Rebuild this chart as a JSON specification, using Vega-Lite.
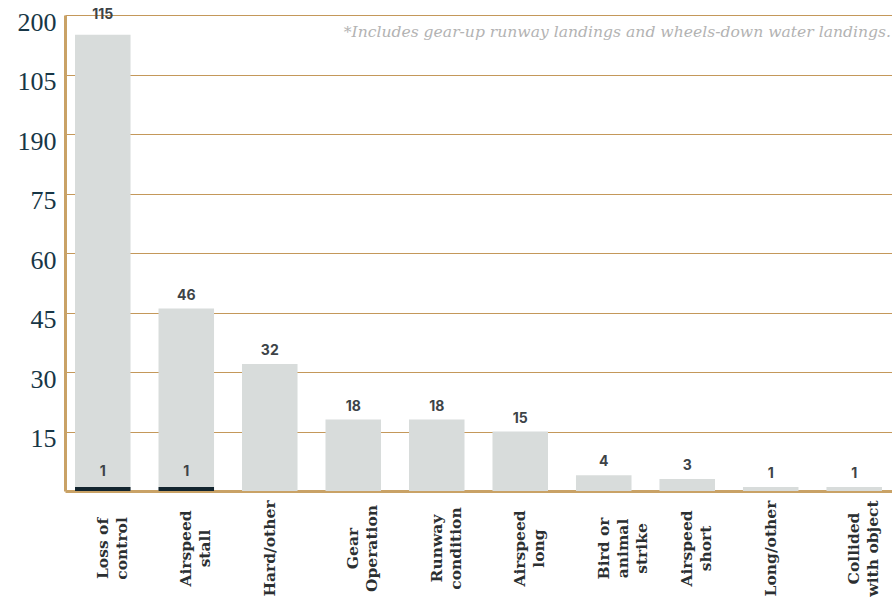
{
  "$schema": "https://vega.github.io/schema/vega-lite/v6.json",
  "width": 827,
  "height": 476,
  "autosize": {"type": "none"},
  "padding": {"left": 65, "top": 15, "right": 0, "bottom": 111},
  "background": "white",
  "title": {
    "text": "*Includes gear-up runway landings and wheels-down water landings.",
    "anchor": "end",
    "orient": "top",
    "offset": -33,
    "font": "DejaVu Serif",
    "fontStyle": "italic",
    "fontWeight": "normal",
    "fontSize": 15.6,
    "color": "#b3b3b3",
    "dx": -1
  },
  "config": {
    "view": {"stroke": null},
    "axis": {"grid": false}
  },
  "data": {
    "values": [
      {"cause": "Loss of|control", "total": 115, "sub": 1},
      {"cause": "Airspeed|stall", "total": 46, "sub": 1},
      {"cause": "Hard/other", "total": 32, "sub": null},
      {"cause": "Gear|Operation", "total": 18, "sub": null},
      {"cause": "Runway|condition", "total": 18, "sub": null},
      {"cause": "Airspeed|long", "total": 15, "sub": null},
      {"cause": "Bird or|animal|strike", "total": 4, "sub": null},
      {"cause": "Airspeed|short", "total": 3, "sub": null},
      {"cause": "Long/other", "total": 1, "sub": null},
      {"cause": "Collided|with object", "total": 1, "sub": null}
    ]
  },
  "encoding": {
    "x": {
      "field": "cause",
      "type": "nominal",
      "sort": null,
      "scale": {"paddingInner": 0.335, "paddingOuter": 0.12},
      "axis": {
        "title": null,
        "domain": true,
        "domainColor": "#c9a266",
        "domainWidth": 3,
        "ticks": false,
        "labelAngle": -90,
        "labelAlign": "center",
        "labelBaseline": "middle",
        "labelPadding": 57,
        "labelFont": "DejaVu Serif",
        "labelFontWeight": "bold",
        "labelFontSize": 15.5,
        "labelLineHeight": 19,
        "labelColor": "#2b2f31",
        "labelExpr": "split(datum.label, '|')"
      }
    }
  },
  "layer": [
    {
      "mark": {"type": "bar", "color": "#d8dcdb"},
      "encoding": {
        "y": {
          "field": "total",
          "type": "quantitative",
          "scale": {"domain": [0, 120], "nice": false},
          "axis": {
            "title": null,
            "values": [15, 30, 45, 60, 75, 90, 105, 120],
            "labelExpr": "datum.value == 90 ? '190' : datum.value == 120 ? '200' : datum.label",
            "grid": true,
            "gridColor": "#c4985a",
            "gridWidth": 1.2,
            "domain": true,
            "domainColor": "#c9a266",
            "domainWidth": 3,
            "ticks": false,
            "labelFont": "Liberation Serif",
            "labelFontSize": 26,
            "labelColor": "#173646",
            "labelPadding": 9,
            "labelOffset": 7,
            "labelBaseline": "middle"
          }
        }
      }
    },
    {
      "mark": {"type": "bar", "color": "#13252f"},
      "transform": [{"filter": "datum.sub != null"}],
      "encoding": {"y": {"field": "sub", "type": "quantitative"}}
    },
    {
      "mark": {"type": "text", "dy": -13, "font": "Inter", "fontWeight": "bold", "fontSize": 14, "color": "#3d4347"},
      "transform": [{"filter": "datum.total < 100"}],
      "encoding": {"y": {"field": "total", "type": "quantitative"}, "text": {"field": "total", "type": "quantitative"}}
    },
    {
      "mark": {"type": "text", "dy": -20, "font": "Inter", "fontWeight": "bold", "fontSize": 14, "color": "#3d4347"},
      "transform": [{"filter": "datum.total >= 100"}],
      "encoding": {"y": {"field": "total", "type": "quantitative"}, "text": {"field": "total", "type": "quantitative"}}
    },
    {
      "mark": {"type": "text", "dy": -15, "font": "Inter", "fontWeight": "bold", "fontSize": 14, "color": "#3d4347"},
      "transform": [{"filter": "datum.sub != null"}],
      "encoding": {"y": {"field": "sub", "type": "quantitative"}, "text": {"field": "sub", "type": "quantitative"}}
    }
  ]
}
